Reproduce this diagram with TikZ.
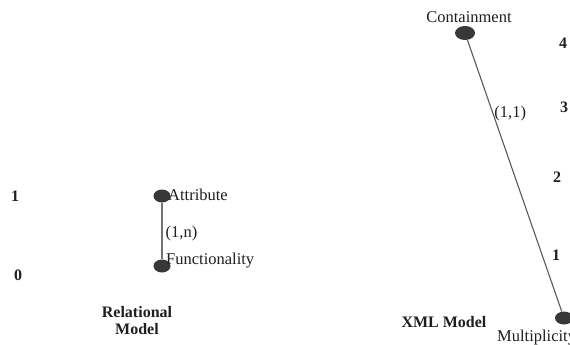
\documentclass[tikz,border=0pt]{standalone}
\usepackage{fontspec}
\setmainfont{Liberation Serif}
\usetikzlibrary{shapes.geometric}
\begin{document}
\begin{tikzpicture}[x=1pt,y=-1pt,
  every node/.style={font=\fontsize{16.5}{18}\selectfont, text=black!88, inner sep=0pt},
  dot/.style={ellipse, fill=black!78, draw=none, minimum width=17pt, minimum height=13pt, inner sep=0pt},
  bigdot/.style={dot, minimum width=20pt, minimum height=14pt},
  level/.style={font=\fontsize{16}{18}\selectfont\bfseries},
  title/.style={font=\fontsize{16}{18}\selectfont\bfseries, align=center},
  link/.style={draw=black!65, line width=1.1pt},
  plainlabel/.style={anchor=west}
]
\useasboundingbox (0,0) rectangle (570,345);
\clip (0,0) rectangle (570,345);
\fill[white] (0,0) rectangle (570,345);

% relational model
\node[level] (r1) at (15,196) {1};
\node[level] (r0) at (18,275) {0};
\node[dot] (attr) at (162,196) {};
\node[dot] (func) at (162,266) {};
\node[plainlabel] (attrl) at (168,195) {Attribute};
\node[plainlabel] (funcl) at (166,261) {Functionality};
\draw[link, draw=black!55, line width=1.4pt] (attr) -- node[right=3pt, pos=0.55] (rmult) {(1,n)} (func);
\node[title] (rtitle) at (137,321) {Relational\\[-1pt]Model};

% xml model
\node[bigdot] (cont) at (465,33) {};
\node (contl) at (469,17) {Containment};
\node[level] (x4) at (563,43) {4};
\node[level] (x3) at (564,107) {3};
\node[level] (x2) at (557,177) {2};
\node[level] (x1) at (556,255) {1};
\node[dot, minimum width=18pt, minimum height=13pt] (mult) at (564,318) {};
\node[plainlabel] (multl) at (497,338) {Multiplicity};
\draw[link] (cont) -- node[pos=0.27, anchor=west, xshift=1pt] (xmult) {(1,1)} (mult);
\node[font=\fontsize{16}{18}\selectfont\bfseries] (xtitle) at (444,322) {XML Model};
\end{tikzpicture}
\end{document}
